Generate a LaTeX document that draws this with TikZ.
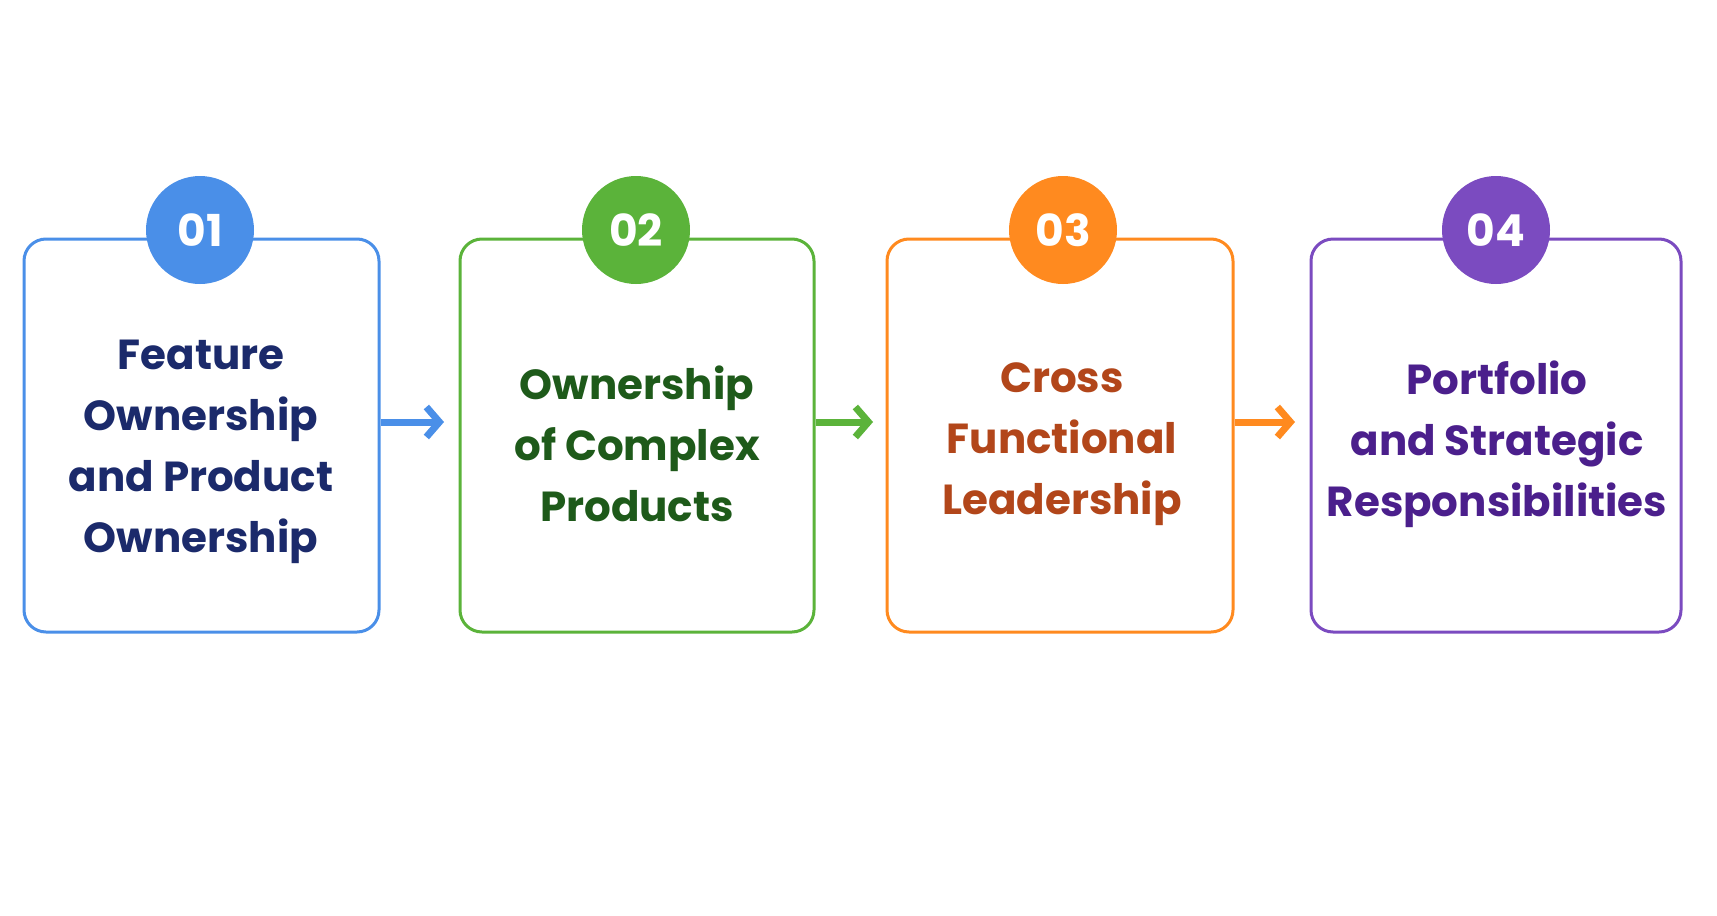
\documentclass[tikz,border=0pt]{standalone}
\usepackage{fontspec}
\setmainfont{Poppins}
\usetikzlibrary{arrows.meta}
\definecolor{cA}{HTML}{4A8FE8}\definecolor{tA}{HTML}{1B2A6B}
\definecolor{cB}{HTML}{5BB33A}\definecolor{tB}{HTML}{1E5A1A}
\definecolor{cC}{HTML}{FF8A1F}\definecolor{tC}{HTML}{B2461A}
\definecolor{cD}{HTML}{7B4BC0}\definecolor{tD}{HTML}{4B1F8C}
\tikzset{x=1pt,y=-1pt,
 box/.style={draw=#1,line width=3pt,rounded corners=22pt,fill=white},
 num/.style={circle,fill=#1,minimum size=108pt,inner sep=0,text=white,font=\fontsize{44}{44}\selectfont\bfseries},
 lab/.style={text=#1,align=center,font=\fontsize{42}{61}\selectfont\bfseries},
 arr/.style={draw=#1,line width=7pt,-{Straight Barb[length=13pt,width=30pt]}}}
\begin{document}
\begin{tikzpicture}
\useasboundingbox[fill=white] (0,0) rectangle (1717,916);
\foreach \n/\a/\b/\c/\t in {1/24/379/cA/tA,2/460/814/cB/tB,3/887/1233/cC/tC,4/1311/1681/cD/tD}{
 \draw[box=\c] (\a,239) rectangle (\b,632);
}
\node[num=cA] (n1) at (200,230) {01};
\node[num=cB] (n2) at (636,230) {02};
\node[num=cC] (n3) at (1063,230) {03};
\node[num=cD] (n4) at (1496,230) {04};
\node[lab=tA] (l1) at (201,452) {Feature\\Ownership\\and Product\\Ownership};
\node[lab=tB] (l2) at (637,444) {Ownership\\of Complex\\Products};
\node[lab=tC] (l3) at (1062,444) {Cross\\Functional\\Leadership};
\node[lab=tD] (l4) at (1497,444) {Portfolio\\and Strategic\\Responsibilities};
\coordinate (a1) at (381,422); \coordinate (b1) at (444,422);
\coordinate (a2) at (816,422); \coordinate (b2) at (873,422);
\coordinate (a3) at (1235,422); \coordinate (b3) at (1295,422);
\draw[arr=cA] (a1) -- (b1);
\draw[arr=cB] (a2) -- (b2);
\draw[arr=cC] (a3) -- (b3);
\end{tikzpicture}
\end{document}
